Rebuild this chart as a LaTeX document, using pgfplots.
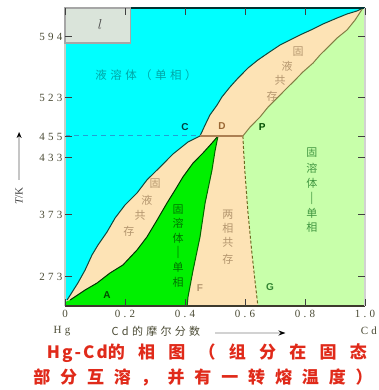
\documentclass[border=0pt]{standalone}
\usepackage{pgfplots}
\pgfplotsset{compat=1.18}
\usetikzlibrary{arrows.meta}
\usepackage{fontspec}
\setmainfont{Liberation Serif}
\newfontfamily\ticktext[LetterSpace=30]{Liberation Serif}
\newfontfamily\cjk[LetterSpace=30]{Noto Sans CJK SC}
\newfontfamily\cjktitle[LetterSpace=58]{Noto Sans CJK SC}
\newfontfamily\cjktitleb[LetterSpace=78]{Noto Sans CJK SC}
\newfontfamily\lattitle[LetterSpace=12]{Noto Sans CJK SC}
\newfontfamily\ptfont{Liberation Sans}

\definecolor{liq}{HTML}{00FFFF}
\definecolor{twoph}{HTML}{FDE3B5}
\definecolor{alphaph}{HTML}{00F000}
\definecolor{betaph}{HTML}{C8FFAA}
\definecolor{bnd}{HTML}{12463C}
\definecolor{tickc}{HTML}{4A4A34}
\definecolor{titlec}{HTML}{E02A1A}
\definecolor{tan}{HTML}{B4966E}

\begin{document}
\begin{tikzpicture}
\begin{axis}[
  at={(0,0)}, anchor=south west,
  scale only axis, width=300pt, height=298pt,
  xmin=0, xmax=1, ymin=0, ymax=298,
  clip=false, axis on top,
  axis line style={draw=none},
  xtick={0,0.2,0.4,0.6,0.8,1},
  xticklabels={0,0.2,0.4,0.6,0.8,1.0},
  ytick={269,208,169,148,91,29},
  yticklabels={594,523,455,433,373,273},
  tick align=inside,
  major tick length=7pt,
  tick style={draw=black!75, line width=1pt},
  /pgf/number format/assume math mode=true,
  tick label style={font=\ticktext\fontsize{11}{12}\selectfont, text=tickc},
  xticklabel style={yshift=-1pt},
  yticklabel style={xshift=1pt},
]
% single-phase solid solution rich in Cd (background)
\addplot[fill=betaph, draw=none] coordinates {(0,0) (1,0) (1,298) (0,298)} -- cycle;
% two-phase regions
\addplot[fill=twoph, draw=none] coordinates {
  (0,0) (0.643,0) (0.633,26) (0.623,53) (0.61,93) (0.6,133) (0.596,152) (0.593,170)
  (0.617,179) (0.65,189) (0.677,199) (0.707,208) (0.74,218) (0.767,226) (0.793,234)
  (0.827,243) (0.85,251) (0.877,259) (0.907,268) (0.94,276) (0.967,286) (0.993,298)
  (0,298)} -- cycle;
% liquid
\addplot[fill=liq, draw=none] coordinates {
  (0,298) (0,5) (0.007,6) (0.043,23) (0.067,36) (0.09,51) (0.11,61) (0.14,74)
  (0.167,88) (0.2,101) (0.24,113) (0.273,126) (0.317,139) (0.36,152) (0.41,164)
  (0.45,170) (0.467,181) (0.483,191) (0.507,201) (0.523,209) (0.55,219) (0.577,228)
  (0.61,238) (0.643,246) (0.677,253) (0.717,261) (0.75,266) (0.783,271) (0.827,277)
  (0.86,282) (0.907,288) (0.94,292) (0.973,295) (0.993,298)} -- cycle;
% solid solution rich in Hg
\addplot[fill=alphaph, draw=none] coordinates {
  (0,0) (0,4) (0.017,6) (0.067,16) (0.107,23) (0.15,33) (0.193,41) (0.24,56)
  (0.273,69) (0.307,86) (0.34,103) (0.367,116) (0.393,129) (0.427,143) (0.46,153)
  (0.493,164) (0.51,170) (0.5,155) (0.49,136) (0.467,103) (0.45,69) (0.427,36)
  (0.41,9) (0.407,0)} -- cycle;

% liquidus
\addplot[draw=bnd, line width=1pt] coordinates {
  (0.007,6) (0.043,23) (0.067,36) (0.09,51) (0.11,61) (0.14,74)
  (0.167,88) (0.2,101) (0.24,113) (0.273,126) (0.317,139) (0.36,152) (0.41,164)
  (0.45,170) (0.467,181) (0.483,191) (0.507,201) (0.523,209) (0.55,219) (0.577,228)
  (0.61,238) (0.643,246) (0.677,253) (0.717,261) (0.75,266) (0.783,271) (0.827,277)
  (0.86,282) (0.907,288) (0.94,292) (0.973,295) (0.993,298)};
% solidus of the Hg-rich solid solution
\addplot[draw=black!80!green, line width=1pt] coordinates {
  (0.017,6) (0.067,16) (0.107,23) (0.15,33) (0.193,41) (0.24,56)
  (0.273,69) (0.307,86) (0.34,103) (0.367,116) (0.393,129) (0.427,143) (0.46,153)
  (0.493,164) (0.51,170)};
% solvus of the Hg-rich solid solution
\addplot[draw=green!40!black, line width=1pt] coordinates {
  (0.51,170) (0.5,155) (0.49,136) (0.467,103) (0.45,69) (0.427,36) (0.41,9) (0.407,0)};
% solvus of the Cd-rich solid solution
\addplot[draw=olive!70!black, line width=1pt, dash pattern=on 3pt off 2pt] coordinates {
  (0.593,170) (0.596,152) (0.6,133) (0.61,93) (0.623,53) (0.633,26) (0.643,0)};
% solidus of the Cd-rich solid solution
\addplot[draw=olive!60!black!80, line width=1pt] coordinates {
  (0.593,170) (0.617,179) (0.65,189) (0.677,199) (0.707,208) (0.74,218) (0.767,226)
  (0.793,234) (0.827,243) (0.85,251) (0.877,259) (0.907,268) (0.94,276) (0.967,286)
  (0.993,298)};
% peritectic line
\addplot[draw=brown!70!gray, line width=1.8pt] coordinates {(0.45,170) (0.593,170)};
\addplot[draw=cyan!70!teal, line width=1pt, dash pattern=on 5pt off 4pt] coordinates {(0,170) (0.45,170)};

% frame
\addplot[draw=green!10!gray!40, line width=2pt] coordinates {(0,0) (0,298)};
\addplot[draw=black!75!olive, line width=2pt] coordinates {(0,0) (1,0)};
\addplot[draw=teal!40!black, line width=1.6pt] coordinates {(0,298) (1,298)};
\addplot[draw=gray!35, line width=1.6pt] coordinates {(1,0) (1,298)};

% phase box
\addplot[fill=green!15!gray!25, draw=gray!70, line width=1.2pt] coordinates {(0,298) (0.217,298) (0.217,263) (0,263)} -- cycle;
\node[text=black!70] at (axis cs:0.117,281) {\fontsize{15}{15}\selectfont$l$};

% region labels
\node[text=teal!70!cyan, font=\cjk\fontsize{11.5}{12}\selectfont] at (axis cs:0.27,231) {液溶体（单相）};
\begin{scope}[every node/.style={text=tan, font=\cjk\fontsize{11}{12}\selectfont}]
\node at (axis cs:0.777,254) {固};
\node at (axis cs:0.74,240) {液};
\node at (axis cs:0.717,226) {共};
\node at (axis cs:0.69,210) {存};
\node at (axis cs:0.3,122) {固};
\node at (axis cs:0.273,106) {液};
\node at (axis cs:0.25,91) {共};
\node at (axis cs:0.213,75) {存};
\node at (axis cs:0.543,91) {两};
\node at (axis cs:0.543,78) {相};
\node at (axis cs:0.543,64) {共};
\node at (axis cs:0.543,47) {存};
\end{scope}
\begin{scope}[every node/.style={text=green!45!black, font=\cjk\fontsize{11}{12}\selectfont}]
\node at (axis cs:0.377,96) {固};
\node at (axis cs:0.377,83) {溶};
\node at (axis cs:0.377,68) {体};
\node at (axis cs:0.377,54) {|};
\node at (axis cs:0.377,39) {单};
\node at (axis cs:0.377,24) {相};
\end{scope}
\begin{scope}[every node/.style={text=green!45!black!75, font=\cjk\fontsize{11}{12}\selectfont}]
\node at (axis cs:0.823,153) {固};
\node at (axis cs:0.823,138) {溶};
\node at (axis cs:0.823,123) {体};
\node at (axis cs:0.823,108) {|};
\node at (axis cs:0.823,93) {单};
\node at (axis cs:0.823,79) {相};
\end{scope}

% point labels
\begin{scope}[every node/.style={font=\ptfont\bfseries\fontsize{10}{10}\selectfont}]
\node[text=teal!50!black] at (axis cs:0.4,179) {C};
\node[text=brown!80!black] at (axis cs:0.523,180) {D};
\node[text=green!30!black] at (axis cs:0.657,179) {P};
\node[text=green!30!black] at (axis cs:0.14,11) {A};
\node[text=tan] at (axis cs:0.45,18) {F};
\node[text=green!40!black!80] at (axis cs:0.683,19) {G};
\end{scope}

% axis descriptions
\draw[gray!45, line width=1.8pt, -{Stealth[black,length=6pt,width=5pt]}] (axis cs:-0.153,126) -- (axis cs:-0.153,174);
\node[rotate=90, text=black!75, font=\fontsize{11}{12}\selectfont] at (axis cs:-0.153,110) {\textit{T}/K};
\node[text=tickc, font=\ticktext\fontsize{11}{12}\selectfont] at (axis cs:-0.01,-25) {Hg};
\node[text=tickc, font=\ticktext\fontsize{11}{12}\selectfont] at (axis cs:1.013,-25) {Cd};
\node[text=tickc, font=\cjk\fontsize{11}{12}\selectfont] at (axis cs:0.303,-25) {Cd的摩尔分数};
\draw[gray!35, line width=2pt, -{Stealth[black,length=7pt,width=5pt]}] (axis cs:0.5,-27) -- (axis cs:0.735,-27);

% caption
\node[text=titlec, font=\cjktitleb\bfseries\fontsize{17}{17}\selectfont] at (axis cs:0.473,-47) {{\lattitle Hg-Cd}的相图（组分在固态};
\node[text=titlec, font=\cjktitle\bfseries\fontsize{17}{17}\selectfont] at (axis cs:0.46,-71) {部分互溶，并有一转熔温度）};
\end{axis}
\pgfresetboundingbox
\path (-65pt,-84pt) rectangle (313pt,306pt);
\end{tikzpicture}
\end{document}
